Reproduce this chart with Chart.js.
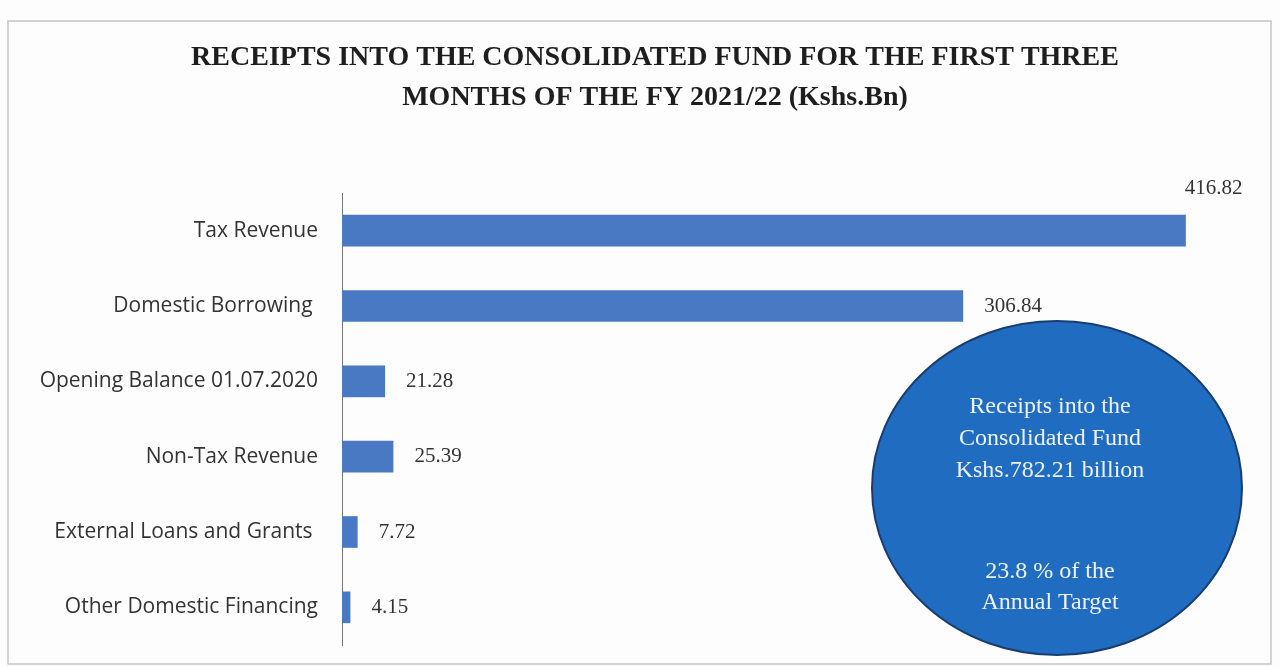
<!DOCTYPE html>
<html>
<head>
<meta charset="utf-8">
<script src="https://cdn.jsdelivr.net/npm/chart.js@4"></script>
<style>
  html, body { margin: 0; padding: 0; background: #fff; }
  #wrap { width: 1280px; height: 667px; }
</style>
</head>
<body>
<div id="wrap"><canvas id="receiptsChart" width="1280" height="667"></canvas></div>
<script>
const categories = [
  'Tax Revenue',
  'Domestic Borrowing ',
  'Opening Balance 01.07.2020',
  'Non-Tax Revenue',
  'External Loans and Grants ',
  'Other Domestic Financing'
];
const receipts = [416.82, 306.84, 21.28, 25.39, 7.72, 4.15];
const titleLines = [
  'RECEIPTS INTO THE CONSOLIDATED FUND FOR THE FIRST THREE',
  'MONTHS OF THE FY 2021/22 (Kshs.Bn)'
];
const bubbleTop = ['Receipts into the', 'Consolidated Fund', 'Kshs.782.21 billion'];
const bubbleBottom = ['23.8 % of the', 'Annual Target'];

// frame + title drawn by hand so the title sits where the scan has it
const framePlugin = {
  id: 'frame',
  beforeDraw(chart) {
    const ctx = chart.ctx;
    ctx.save();
    ctx.fillStyle = '#fdfdfd';
    ctx.fillRect(0, 0, chart.width, chart.height);
    ctx.strokeStyle = '#c4c4c4';
    ctx.lineWidth = 1.5;
    ctx.strokeRect(8, 21, 1263, 643);
    ctx.fillStyle = '#1e1e1e';
    ctx.font = 'bold 28px "Liberation Serif"';
    ctx.textAlign = 'center';
    ctx.textBaseline = 'middle';
    ctx.fillText(titleLines[0], 655, 58);
    ctx.fillText(titleLines[1], 655, 98);
    ctx.restore();
  }
};

const labelPlugin = {
  id: 'valueLabels',
  afterDatasetsDraw(chart) {
    const ctx = chart.ctx;
    const meta = chart.getDatasetMeta(0);
    ctx.save();
    ctx.fillStyle = '#333';
    ctx.font = '21px "Liberation Serif"';
    ctx.textBaseline = 'middle';
    ctx.textAlign = 'left';
    meta.data.forEach((bar, i) => {
      const txt = receipts[i].toFixed(2);
      if (i === 0) {
        ctx.fillText(txt, bar.x - 1, bar.y - 42);
      } else {
        ctx.fillText(txt, bar.x + 21, bar.y);
      }
    });
    ctx.restore();
  }
};

const bubblePlugin = {
  id: 'bubble',
  afterDraw(chart) {
    const ctx = chart.ctx;
    ctx.save();
    ctx.beginPath();
    ctx.ellipse(1057, 488, 185, 167, 0, 0, Math.PI * 2);
    ctx.fillStyle = '#1f6cc0';
    ctx.fill();
    ctx.lineWidth = 2;
    ctx.strokeStyle = '#1a3d6e';
    ctx.stroke();
    ctx.fillStyle = '#eef2fa';
    ctx.font = '24px "Liberation Serif"';
    ctx.textAlign = 'center';
    ctx.textBaseline = 'middle';
    bubbleTop.forEach((t, i) => ctx.fillText(t, 1050, 407 + i * 32));
    bubbleBottom.forEach((t, i) => ctx.fillText(t, 1050, 572 + i * 31));
    ctx.restore();
  }
};

new Chart(document.getElementById('receiptsChart'), {
  type: 'bar',
  data: {
    labels: categories,
    datasets: [{
      label: 'Receipts (Kshs.Bn)',
      data: receipts,
      backgroundColor: '#4879c2',
      borderWidth: 0,
      barPercentage: 0.42,
      categoryPercentage: 1
    }]
  },
  options: {
    indexAxis: 'y',
    responsive: false,
    animation: false,
    layout: { padding: { left: 12, right: 27, top: 193, bottom: 22 } },
    plugins: {
      legend: { display: false },
      title: { display: false },
      tooltip: { enabled: false }
    },
    scales: {
      x: {
        display: false,
        min: 0,
        max: 450
      },
      y: {
        afterFit(scale) {
          scale.width = 330;
          scale.paddingTop = 0;
          scale.paddingBottom = 0;
        },
        grid: { display: false, drawTicks: false },
        border: { display: true, color: '#777', width: 1 },
        ticks: {
          color: '#333',
          padding: 24,
          font: { family: '"Open Sans"', size: 21 }
        }
      }
    }
  },
  plugins: [framePlugin, labelPlugin, bubblePlugin]
});
</script>
</body>
</html>
